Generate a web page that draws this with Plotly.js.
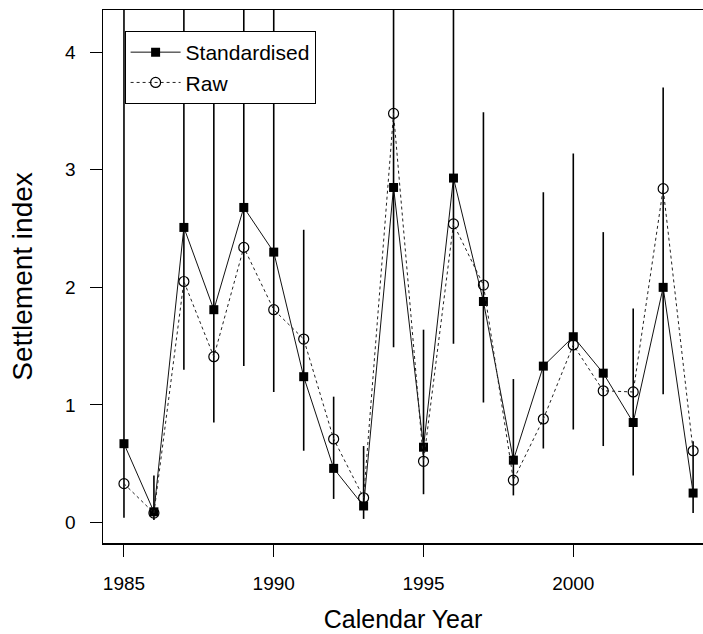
<!DOCTYPE html>
<html>
<head>
<meta charset="utf-8">
<script src="https://cdn.plot.ly/plotly-3.0.1.min.js"></script>
<style>html,body{margin:0;padding:0;background:#fff;}#chart{width:703px;height:634px;}</style>
</head>
<body>
<div id="chart"></div>
<script>
const years = [1985,1986,1987,1988,1989,1990,1991,1992,1993,1994,1995,1996,1997,1998,1999,2000,2001,2002,2003,2004];
const standardised = [0.67,0.09,2.51,1.81,2.68,2.30,1.24,0.46,0.14,2.85,0.64,2.93,1.88,0.53,1.33,1.58,1.27,0.85,2.00,0.25];
const raw = [0.33,0.08,2.05,1.41,2.34,1.81,1.56,0.71,0.21,3.48,0.52,2.54,2.02,0.36,0.88,1.51,1.12,1.11,2.84,0.61];
const upper = [4.60,0.40,5.00,3.84,5.20,4.80,2.49,1.07,0.65,5.50,1.64,5.60,3.49,1.22,2.81,3.14,2.47,1.82,3.70,0.69];
const lower = [0.04,0.02,1.30,0.85,1.33,1.11,0.61,0.20,0.03,1.49,0.24,1.52,1.02,0.23,0.63,0.79,0.65,0.40,1.09,0.08];
const xTicks = [1985,1990,1995,2000];
const yTicks = [0,1,2,3,4];

const errPlus = upper.map((u,i)=>u-standardised[i]);
const errMinus = lower.map((l,i)=>standardised[i]-l);

const font = "Liberation Sans, Arial, sans-serif";

const traces = [
  {
    x: years, y: standardised, name: 'Standardised', type: 'scatter', mode: 'lines+markers',
    line: {color: '#111', width: 1},
    marker: {symbol: 'square', size: 9, color: '#000'},
    error_y: {type: 'data', symmetric: false, array: errPlus, arrayminus: errMinus, width: 0, thickness: 1.6, color: '#000'}
  },
  {
    x: years, y: raw, name: 'Raw', type: 'scatter', mode: 'lines+markers',
    line: {color: '#222', width: 1, dash: '3px,3px'},
    marker: {symbol: 'circle-open', size: 10, color: '#000', line: {width: 1.2, color: '#000'}}
  }
];

const layout = {
  width: 703, height: 634,
  margin: {l: 103, r: 0, t: 10, b: 91},
  paper_bgcolor: '#fff', plot_bgcolor: '#fff',
  font: {family: font, color: '#000'},
  showlegend: true,
  legend: {
    x: 0.036, y: 0.9606, xanchor: 'left', yanchor: 'top',
    bordercolor: '#000', borderwidth: 1, bgcolor: '#fff',
    font: {family: font, size: 21, color: '#000'},
    itemwidth: 50, tracegroupgap: 0
  },
  xaxis: {
    range: [1984.30, 2004.33],
    tickvals: xTicks, ticktext: xTicks.map(String),
    ticks: 'outside', ticklen: 12, tickwidth: 1, tickcolor: '#000',
    showline: true, linecolor: '#000', linewidth: 1.5, mirror: true,
    showgrid: false, zeroline: false,
    tickfont: {family: font, size: 19},
    ticklabelstandoff: 11,
    title: {text: 'Calendar Year', font: {family: font, size: 25}, standoff: 17}
  },
  yaxis: {
    range: [-0.175, 4.36],
    tickvals: yTicks, ticktext: yTicks.map(String),
    ticks: 'outside', ticklen: 12, tickwidth: 1, tickcolor: '#000',
    showline: true, linecolor: '#000', linewidth: 1.5, mirror: false,
    showgrid: false, zeroline: false,
    tickfont: {family: font, size: 19},
    ticklabelstandoff: 10,
    title: {text: 'Settlement index', font: {family: font, size: 28}, standoff: 24}
  }
};

Plotly.newPlot('chart', traces, layout, {displayModeBar: false, staticPlot: true});
</script>
</body>
</html>
